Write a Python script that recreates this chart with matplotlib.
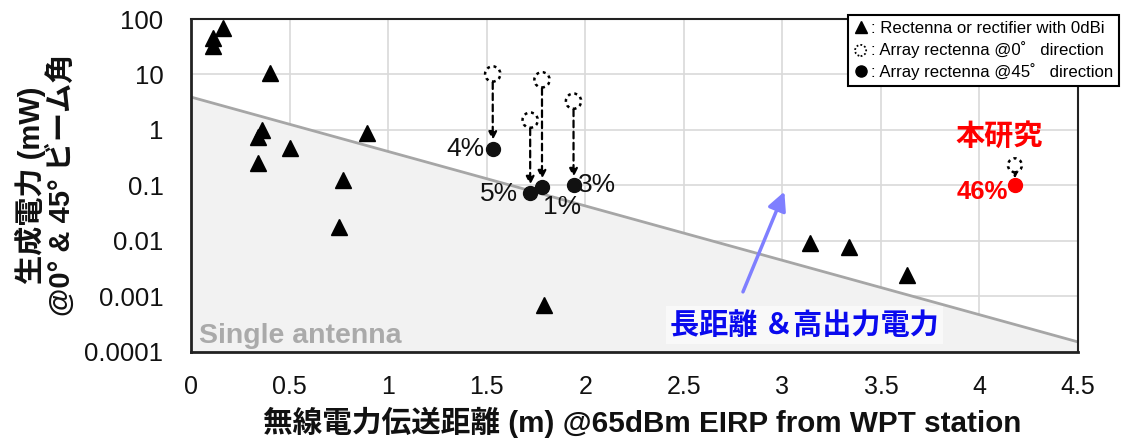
import matplotlib
matplotlib.use("Agg")
import matplotlib.pyplot as plt
from matplotlib.lines import Line2D
import numpy as np

# ---------------- data ----------------
single_x = [0.11, 0.11, 0.16, 0.40, 0.36, 0.34, 0.50, 0.34, 0.89, 0.77, 0.75, 1.79, 3.14, 3.34, 3.63]
single_y = [33, 45, 68, 10.5, 1.0, 0.76, 0.47, 0.25, 0.87, 0.125, 0.018, 0.0007, 0.0093, 0.0076, 0.0024]

array_x = [1.53, 1.72, 1.78, 1.94]
array0_y = [10.2, 1.5, 8.0, 3.3]
array45_y = [0.46, 0.072, 0.092, 0.10]
array_labels = ["4%", "5%", "1%", "3%"]

this_x = 4.18
this0_y = 0.23
this45_y = 0.10
this_label = "46%"

boundary_x = [0.0, 4.5]
boundary_y = [3.9, 0.00015]

xticks = [0, 0.5, 1, 1.5, 2, 2.5, 3, 3.5, 4, 4.5]
xticklabels = ["0", "0.5", "1", "1.5", "2", "2.5", "3", "3.5", "4", "4.5"]
yticks = [0.0001, 0.001, 0.01, 0.1, 1, 10, 100]
yticklabels = ["0.0001", "0.001", "0.01", "0.1", "1", "10", "100"]

trend_tail = (2.80, 0.0012)
trend_head = (3.01, 0.077)

# ---------------- style ----------------
CJK = ["Noto Sans CJK JP", "DejaVu Sans"]
SANS = ["Liberation Sans", "DejaVu Sans"]
MIXED = ["Liberation Sans", "Noto Sans CJK JP", "DejaVu Sans"]
DOTTED = (0, (1.2, 1.5))

fig = plt.figure(figsize=(11.29, 4.45), dpi=100)
ax = fig.add_axes([0.1694, 0.2097, 0.9548 - 0.1694, 0.9573 - 0.2097])

ax.set_yscale("log")
ax.set_xlim(0, 4.5)
ax.set_ylim(0.0001, 100)

ax.grid(True, which="major", color="#d9d9d9", linewidth=1.2)
ax.set_axisbelow(True)
ax.minorticks_off()

# boundary line + fill (single antenna region)
ax.fill_between(boundary_x, boundary_y, 0.0001, color="#f2f2f2", zorder=1)
ax.plot(boundary_x, boundary_y, color="#a6a6a6", linewidth=2, zorder=2)

# single antennas
ax.plot(single_x, single_y, linestyle="none", marker="^", markersize=11,
        color="black", zorder=5)

# arrays
for x, y0, y45 in zip(array_x, array0_y, array45_y):
    ax.annotate("", xy=(x, y45), xytext=(x, y0),
                arrowprops=dict(arrowstyle="-|>", linestyle=(0, (3, 2)), color="black",
                                lw=1.6, shrinkA=6, shrinkB=6, mutation_scale=12),
                zorder=4)
ax.scatter(array_x, array0_y, s=11 ** 2, facecolors="white", edgecolors="black",
           linewidths=1.8, linestyles=DOTTED, zorder=5)
ax.plot(array_x, array45_y, linestyle="none", marker="o", markersize=10,
        color="#111111", zorder=6)

label_offsets = {"4%": (-8, 0, "right"), "5%": (-12, -1, "right"),
                 "1%": (1, -20, "left"), "3%": (4, 0, "left")}
for x, y, lab in zip(array_x, array45_y, array_labels):
    dx, dy, ha = label_offsets[lab]
    ax.annotate(lab, xy=(x, y), xytext=(dx, dy), textcoords="offset pixels",
                ha=ha, va="center", fontsize=19, family=SANS, color="#111111",
                zorder=7)

# this work
ax.annotate("", xy=(this_x, this45_y), xytext=(this_x, this0_y),
            arrowprops=dict(arrowstyle="-|>", linestyle=(0, (3, 2)), color="black",
                            lw=1.6, shrinkA=5, shrinkB=5, mutation_scale=10),
            zorder=4)
ax.scatter([this_x], [this0_y], s=10 ** 2, facecolors="white", edgecolors="black",
           linewidths=1.8, linestyles=DOTTED, zorder=5)
ax.plot([this_x], [this45_y], linestyle="none", marker="o", markersize=10,
        color="#ff0000", zorder=6)
ax.annotate(this_label, xy=(this_x, this45_y), xytext=(-7, -7), textcoords="offset pixels",
            ha="right", va="center", fontsize=18.5, fontweight="bold", family=SANS,
            color="#ff0000", zorder=7)
ax.annotate("本研究", xy=(this_x, this45_y), xytext=(-16, 50), textcoords="offset pixels",
            ha="center", va="center", fontsize=21, fontweight="bold", family=CJK,
            color="#ff0000", zorder=7)

# trend arrow
ax.annotate("", xy=trend_head, xytext=trend_tail,
            arrowprops=dict(arrowstyle="-|>", color="#7f7fff", lw=2.5,
                            mutation_scale=28, shrinkA=0, shrinkB=0),
            zorder=3)

ax.text(0.692, 0.081, "長距離 ＆高出力電力", transform=ax.transAxes, ha="center",
        va="center", fontsize=21, fontweight="bold", family=CJK, color="#0a0aee",
        bbox=dict(facecolor="#f9f9f9", edgecolor="none", pad=3), zorder=4)

ax.text(0.009, 0.027, "Single antenna", transform=ax.transAxes, ha="left",
        va="baseline", fontsize=20.5, fontweight="bold", family=SANS, color="#aaaaaa",
        zorder=4)

# ticks
ax.set_xticks(xticks)
ax.set_xticklabels(xticklabels, family=SANS, fontsize=18, color="#111111")
ax.set_yticks(yticks)
ax.set_yticklabels(yticklabels, family=SANS, fontsize=18.5, color="#111111")
ax.tick_params(axis="both", length=0)
ax.tick_params(axis="x", pad=17)
ax.tick_params(axis="y", pad=20)

for s in ax.spines.values():
    s.set_color("#222222")
    s.set_linewidth(1.5)
ax.spines["left"].set_linewidth(2)
ax.spines["bottom"].set_linewidth(2)

ax.set_xlabel("無線電力伝送距離 (m) @65dBm EIRP from WPT station", family=MIXED,
              fontsize=21.3, fontweight="bold", color="#111111")
ax.xaxis.set_label_coords(0.509, -0.165)
ax.set_ylabel("生成電力 (mW)\n@0° & 45° ビーム角", family=MIXED, fontsize=21,
              fontweight="bold", labelpad=6, color="#111111", linespacing=1.05)

# legend
leg_tri = Line2D([], [], linestyle="none", marker="^", markersize=9, color="black")
leg_open = ax.scatter([], [], s=8 ** 2, facecolors="white", edgecolors="black",
                      linewidths=1.3, linestyles=(0, (1, 1.2)))
leg_fill = Line2D([], [], linestyle="none", marker="o", markersize=8, color="black")
labels = [": Rectenna or rectifier with 0dBi",
          ": Array rectenna @0˚   direction",
          ": Array rectenna @45˚   direction"]
leg = fig.legend([leg_tri, leg_open, leg_fill], labels, loc="upper left",
                 bbox_to_anchor=(848 / 1129, 1 - 15 / 445), frameon=True,
                 fancybox=False, edgecolor="black", framealpha=1,
                 prop={"family": SANS, "size": 12.1}, handlelength=0.8,
                 handletextpad=0.2, borderpad=0.35, labelspacing=0.3,
                 borderaxespad=0, scatterpoints=1)
leg.get_frame().set_linewidth(1.5)
leg.set_zorder(10)

fig.savefig("out.png", dpi=100)
